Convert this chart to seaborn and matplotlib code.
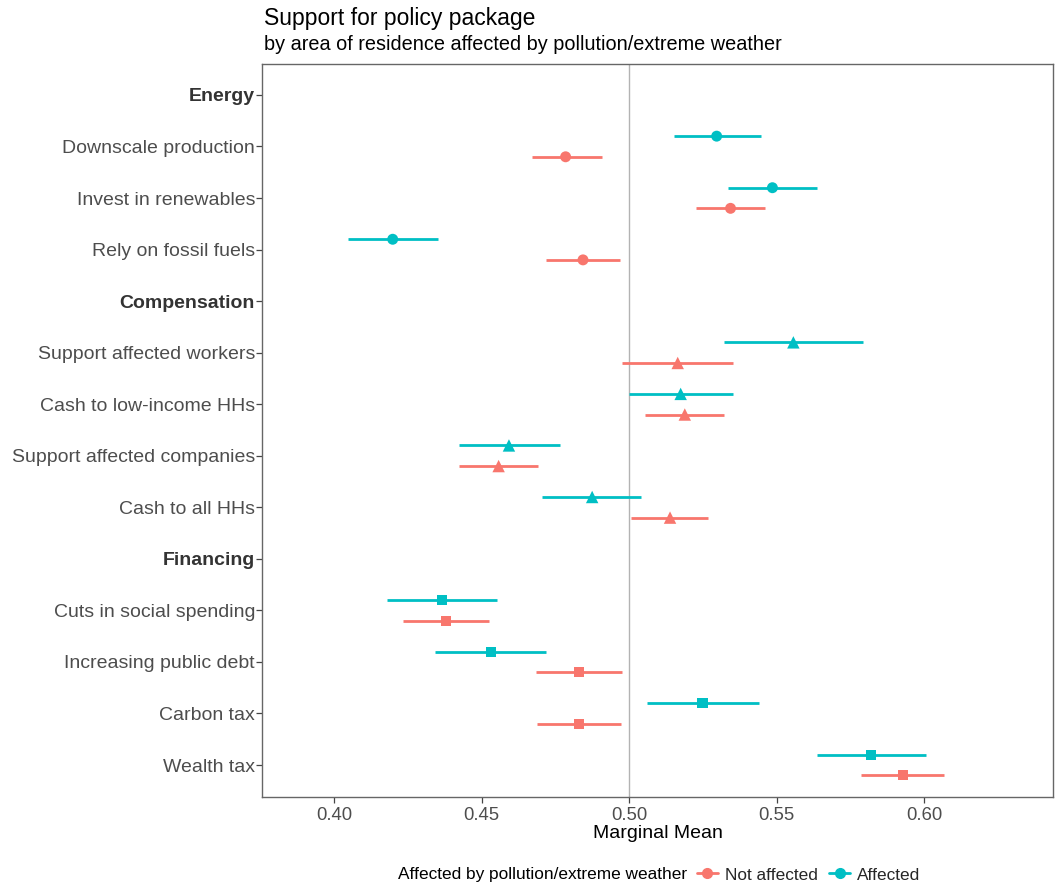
import numpy as np
import pandas as pd
import matplotlib
matplotlib.use("Agg")
import matplotlib.pyplot as plt
from matplotlib.lines import Line2D
import seaborn as sns

# Row order (top to bottom); group headers are drawn in bold
rows = [
    "Energy", "Downscale production", "Invest in renewables", "Rely on fossil fuels",
    "Compensation", "Support affected workers", "Cash to low-income HHs",
    "Support affected companies", "Cash to all HHs",
    "Financing", "Cuts in social spending", "Increasing public debt",
    "Carbon tax", "Wealth tax",
]
headers = ["Energy", "Compensation", "Financing"]

attributes = [
    "Downscale production", "Invest in renewables", "Rely on fossil fuels",
    "Support affected workers", "Cash to low-income HHs",
    "Support affected companies", "Cash to all HHs",
    "Cuts in social spending", "Increasing public debt", "Carbon tax", "Wealth tax",
]
blocks = ["Energy"] * 3 + ["Compensation"] * 4 + ["Financing"] * 4

groups = ["Not affected", "Affected"]

not_mean = [0.4785, 0.5344, 0.4844, 0.5165, 0.5189, 0.4558, 0.5139, 0.4380, 0.4830, 0.4830, 0.5928]
not_lo   = [0.4670, 0.5227, 0.4720, 0.4976, 0.5055, 0.4425, 0.5005, 0.4235, 0.4685, 0.4687, 0.5785]
not_hi   = [0.4908, 0.5461, 0.4969, 0.5352, 0.5321, 0.4690, 0.5269, 0.4524, 0.4976, 0.4974, 0.6068]

aff_mean = [0.5297, 0.5486, 0.4199, 0.5557, 0.5175, 0.4593, 0.4875, 0.4366, 0.4531, 0.5249, 0.5821]
aff_lo   = [0.5151, 0.5337, 0.4048, 0.5323, 0.5000, 0.4423, 0.4704, 0.4179, 0.4344, 0.5060, 0.5637]
aff_hi   = [0.5447, 0.5637, 0.4351, 0.5792, 0.5352, 0.4765, 0.5040, 0.4553, 0.4718, 0.5440, 0.6007]

x_ticks = [0.40, 0.45, 0.50, 0.55, 0.60]
x_tick_labels = ["0.40", "0.45", "0.50", "0.55", "0.60"]

palette = {"Not affected": "#F8766D", "Affected": "#00BFC4"}
markers = {"Energy": "o", "Compensation": "^", "Financing": "s"}
marker_sizes = {"Energy": 62, "Compensation": 80, "Financing": 52}
dodge = {"Not affected": 0.2, "Affected": -0.2}

frames = []
for g, m, lo, hi in [("Not affected", not_mean, not_lo, not_hi),
                     ("Affected", aff_mean, aff_lo, aff_hi)]:
    frames.append(pd.DataFrame({
        "attribute": attributes, "block": blocks, "group": g,
        "mean": m, "lo": lo, "hi": hi,
    }))
df = pd.concat(frames, ignore_index=True)
df["ypos"] = df["attribute"].map({r: i for i, r in enumerate(rows)}) + df["group"].map(dodge)

sns.set_theme(style="white")
plt.rcParams["font.family"] = ["Liberation Sans", "DejaVu Sans"]

fig = plt.figure(figsize=(10.55, 8.86), dpi=100)
ax = fig.add_axes([262 / 1055, 1 - 797 / 886, (1053 - 262) / 1055, (797 - 64) / 886])

ax.axvline(0.5, color="#b3b3b3", lw=1.0, zorder=1)

# confidence intervals
ax.hlines(df["ypos"], df["lo"], df["hi"], colors=df["group"].map(palette), lw=2.0, zorder=2)

# point estimates
for b in headers:
    sub = df[df["block"] == b]
    sns.scatterplot(data=sub, x="mean", y="ypos", hue="group", palette=palette,
                    marker=markers[b], s=marker_sizes[b], linewidth=0,
                    legend=False, ax=ax, zorder=3)

ax.set_xlim(0.3756, 0.6437)
ax.set_ylim(13.62, -0.6)
ax.set_xticks(x_ticks)
ax.set_xticklabels(x_tick_labels, fontsize=13.3, color="#4D4D4D")
ax.set_yticks(range(len(rows)))
ax.set_yticklabels(rows, fontsize=14, color="#4D4D4D")
for lab in ax.get_yticklabels():
    if lab.get_text() in headers:
        lab.set_fontweight("bold")
        lab.set_color("#333333")
ax.tick_params(axis="both", direction="out", length=4, width=0.9, color="#444444",
               left=True, bottom=True)
ax.tick_params(axis="x", pad=3)
ax.tick_params(axis="y", pad=1)
ax.set_xlabel("Marginal Mean", fontsize=14, color="black", labelpad=1)
ax.set_ylabel("")
for sp in ax.spines.values():
    sp.set_color("#666666")
    sp.set_linewidth(1.0)
ax.grid(False)

fig.text(264 / 1055, 1 - 18 / 886, "Support for policy package", fontsize=16.5,
         ha="left", va="center", color="black")
fig.text(264 / 1055, 1 - 45 / 886, "by area of residence affected by pollution/extreme weather",
         fontsize=14.3, ha="left", va="center", color="black")

# legend
fig.text(398 / 1055, 1 - 875 / 886, "Affected by pollution/extreme weather",
         fontsize=12.4, ha="left", va="center", color="black")
handles = [Line2D([0], [0], color=palette[g], marker="o", markersize=7, lw=2) for g in groups]
fig.legend(handles, groups, loc="center left", bbox_to_anchor=(697 / 1055, 1 - 875 / 886),
           ncol=2, frameon=False, fontsize=12.4, handlelength=1.2, handletextpad=0.4,
           columnspacing=0.7, borderaxespad=0, borderpad=0)

fig.savefig("out.png", dpi=100)
